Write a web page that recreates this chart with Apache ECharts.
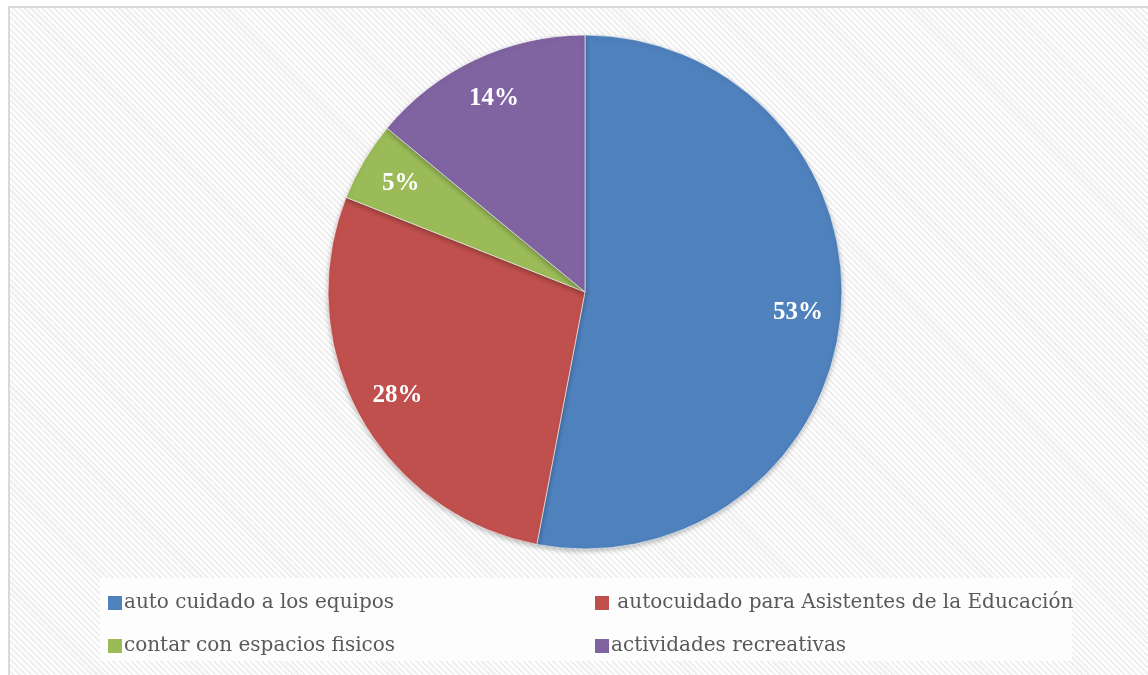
<!DOCTYPE html>
<html><head><meta charset="utf-8">
<script src="https://cdn.jsdelivr.net/npm/echarts@6/dist/echarts.min.js"></script>
<style>
html,body{margin:0;padding:0;background:#fff;}
#frame{position:absolute;left:8px;top:6px;width:1140px;height:669px;border-left:2px solid #d9d9d9;border-top:2px solid #d9d9d9;box-sizing:border-box;
background:repeating-linear-gradient(45deg,#ffffff 0px,#ffffff 2px,#f0f0f0 2px,#f0f0f0 4.2px);}
#legbox{position:absolute;left:100px;top:578px;width:972px;height:83px;background:#fdfdfd;}
#chart{position:absolute;left:0;top:0;width:1148px;height:675px;}
</style></head>
<body>
<div id="frame"></div>
<div id="legbox"></div>
<div id="chart"></div>
<script>
const categories = ['auto cuidado a los equipos', ' autocuidado para Asistentes de la Educación', 'contar con espacios fisicos', 'actividades recreativas'];
const values = [53, 28, 5, 14];
const colors = ['#4F81BD', '#C0504D', '#9BBB59', '#8064A2'];

const chart = echarts.init(document.getElementById('chart'));
const mainData = categories.map((c, i) => ({ name: c, value: values[i], itemStyle: { color: colors[i] } }));
const labelData = categories.map((c, i) => ({ name: c, value: values[i] }));
const legendText = { fontFamily: 'DejaVu Serif', fontSize: 20, lineHeight: 22, color: '#595959', padding: [0,0,0,-4] };
chart.setOption({
  backgroundColor: 'transparent',
  animation: false,
  color: colors,
  legend: [
    { data: [categories[0], categories[2]], orient: 'vertical', left: 101, top: 587, itemWidth: 16, itemHeight: 16, itemGap: 21, icon: 'rect',
      textStyle: legendText },
    { data: [categories[1], categories[3]], orient: 'vertical', left: 588, top: 587, itemWidth: 16, itemHeight: 16, itemGap: 21, icon: 'rect',
      textStyle: legendText }
  ],
  series: [
    { type: 'pie', center: [585, 292], radius: [0, 257], startAngle: 90, clockwise: true,
      data: mainData, label: { show: false }, labelLine: { show: false },
      itemStyle: { borderColor: '#ffffff', borderWidth: 0.6, shadowBlur: 5, shadowColor: 'rgba(0,0,0,0.25)', shadowOffsetY: 2 },
      emphasis: { disabled: true } },
    { type: 'pie', center: [585, 292], radius: [165, 257], startAngle: 90, clockwise: true, silent: true,
      data: labelData, itemStyle: { color: 'rgba(0,0,0,0)' }, labelLine: { show: false },
      label: { show: true, position: 'inside', formatter: p => Math.round(p.percent) + '%',
        fontFamily: 'Liberation Serif', fontWeight: 'bold', fontSize: 25, color: '#ffffff' },
      emphasis: { disabled: true } }
  ]
});
</script>
</body></html>
